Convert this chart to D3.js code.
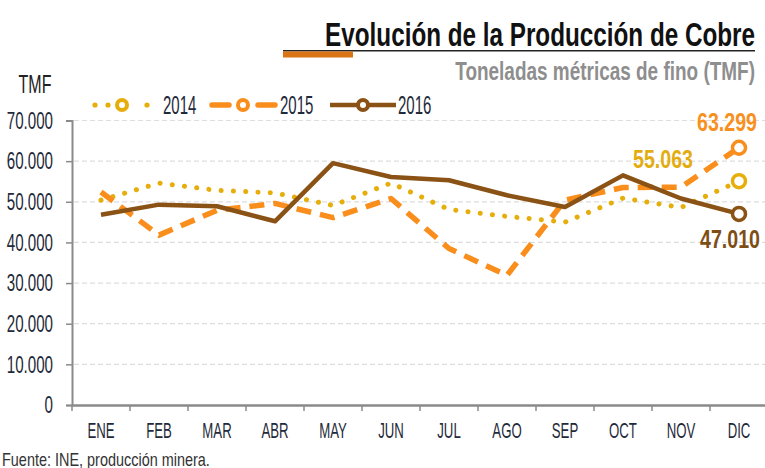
<!DOCTYPE html>
<html><head><meta charset="utf-8">
<script src="https://cdn.jsdelivr.net/npm/d3@7"></script>
<style>
body{margin:0;background:#fff;}
svg{display:block;font-family:"Liberation Sans",Arial,sans-serif;}
</style></head>
<body><svg id="c" width="765" height="468"></svg>
<script>
const months = ["ENE","FEB","MAR","ABR","MAY","JUN","JUL","AGO","SEP","OCT","NOV","DIC"];
const years = ["2014","2015","2016"];
const v2014 = [50400,54600,52800,52200,49100,54600,48100,46400,45000,50900,48600,55063];
const v2015 = [52400,41800,47900,49600,46100,50800,38500,31900,50400,53500,53600,63299];
const v2016 = [46800,49300,48900,45200,59500,56100,55300,51600,48700,56500,50800,47010];
const yTicks = [0,10000,20000,30000,40000,50000,60000,70000];
const colors = ["#E6AE0B","#F98E1C","#8A5214"];
const labelColors = ["#E3AD12","#F7901E","#7E4E16"];

const svg = d3.select("#c");
const fmt = d => d3.format(",")(d).replace(/,/g,".");
// condense text horizontally around its anchor x (narrow typeface look)
function narrow(sel, f, fixed){
  sel.each(function(){
    const s = fixed ? fixed/this.getComputedTextLength() : f;
    const ax = +(this.getAttribute("x")||0);
    d3.select(this).attr("transform",`translate(${ax},0) scale(${s},1) translate(${-ax},0)`);
  });
}

const x = d3.scaleBand().domain(months).range([72,768]);
const y = d3.scaleLinear().domain([0,70000]).range([405,120.5]);

// title
narrow(svg.append("text").attr("x",755).attr("y",46).attr("text-anchor","end")
  .attr("font-size",33).attr("font-weight","bold").attr("fill","#111")
  .text("Evolución de la Producción de Cobre"), 0, 430);
svg.append("line").attr("x1",283).attr("x2",755).attr("y1",50.8).attr("y2",50.8)
  .attr("stroke","#222").attr("stroke-width",1.5);
svg.append("rect").attr("x",283).attr("y",51.5).attr("width",70).attr("height",6).attr("fill","#DB7412");
narrow(svg.append("text").attr("x",755).attr("y",80).attr("text-anchor","end")
  .attr("font-size",25).attr("font-weight","bold").attr("fill","#8e8e8e")
  .text("Toneladas métricas de fino (TMF)"), 0, 300);
narrow(svg.append("text").attr("x",35).attr("y",93).attr("text-anchor","middle")
  .attr("font-size",25).attr("fill","#222").text("TMF"), 0.64);

// grid
svg.append("g").selectAll("line").data(yTicks.filter(d=>d>0)).join("line")
  .attr("x1",74).attr("x2",765).attr("y1",d=>y(d)).attr("y2",d=>y(d))
  .attr("stroke","#ddd").attr("stroke-width",1.2).attr("stroke-dasharray","5 3");

// y axis
const ya = svg.append("g").attr("transform","translate(72,0)")
  .call(d3.axisLeft(y).tickValues(yTicks).tickFormat(fmt).tickSize(6).tickPadding(13));
ya.select(".domain").attr("stroke","#8a8a8a").attr("stroke-width",2);
ya.selectAll(".tick line").attr("stroke","#8a8a8a").attr("stroke-width",1.5);
ya.selectAll("text").attr("font-size",24).attr("fill","#1f2a3a").attr("font-family",null);
narrow(ya.selectAll("text"), 0.63);

// x axis
const xa = svg.append("g").attr("transform","translate(0,405)")
  .call(d3.axisBottom(x).tickSize(0).tickPadding(17));
xa.select(".domain").attr("stroke","#8a8a8a").attr("stroke-width",2.5);
xa.selectAll("text").attr("font-size",22).attr("fill","#1f2a3a").attr("font-family",null);
narrow(xa.selectAll("text"), 0.6);
svg.append("g").selectAll("line").data(months.map(m=>x(m)).concat([x("DIC")+x.bandwidth()])).join("line")
  .attr("x1",d=>d).attr("x2",d=>d).attr("y1",405).attr("y2",411)
  .attr("stroke","#8a8a8a").attr("stroke-width",1.5);

// lines
const series = [v2014,v2015,v2016];
const styles = [
  {w:5, dash:"0.1 12.2", cap:"round"},
  {w:5.5, dash:"15 9", cap:"butt"},
  {w:4.5, dash:null, cap:"butt"}
];
const line = d3.line().x((d,i)=>x(months[i])+x.bandwidth()/2).y(d=>y(d));
series.forEach((s,k)=>{
  svg.append("path").datum(s).attr("d",line).attr("fill","none")
    .attr("stroke",colors[k]).attr("stroke-width",styles[k].w)
    .attr("stroke-dasharray",styles[k].dash).attr("stroke-linecap",styles[k].cap)
    .attr("stroke-linejoin","round");
});
// end markers
series.forEach((s,k)=>{
  svg.append("circle").attr("cx",x("DIC")+x.bandwidth()/2).attr("cy",y(s[11]))
    .attr("r",6.5).attr("fill","#fff").attr("stroke",colors[k]).attr("stroke-width",3.5);
});
// end labels
const labPos = [[663,-13],[727,-16.5],[730,34.5]];
series.forEach((s,k)=>{
  narrow(svg.append("text").attr("x",labPos[k][0]).attr("y",y(s[11])+labPos[k][1])
    .attr("text-anchor","middle").attr("font-size",25).attr("font-weight","bold")
    .attr("fill",labelColors[k]).text(fmt(s[11])), 0, 60);
});

// legend
const leg = [
  {x0:92, x1:152, mx:122, tx:163},
  {x0:212, x1:276, mx:243, tx:280},
  {x0:330, x1:396, mx:363, tx:398}
];
years.forEach((yr,k)=>{
  const L = leg[k], g = svg.append("g");
  if(k===0){
    [95,108,147].forEach(cx=>g.append("circle").attr("cx",cx).attr("cy",105).attr("r",2.6).attr("fill",colors[0]));
  } else {
    g.append("line").attr("x1",L.x0).attr("x2",L.x1).attr("y1",105).attr("y2",105)
      .attr("stroke",colors[k]).attr("stroke-width",k===1?5.5:4.5)
      .attr("stroke-dasharray",k===1?"17 29 17":null).attr("stroke-linecap",k===1?"round":"butt");
  }
  g.append("circle").attr("cx",L.mx).attr("cy",105).attr("r",5).attr("fill","#fff")
    .attr("stroke",colors[k]).attr("stroke-width",4);
  narrow(g.append("text").attr("x",L.tx).attr("y",114).attr("font-size",25).attr("fill","#1f2a3a").text(yr), 0.6);
});

// source
narrow(svg.append("text").attr("x",2).attr("y",466).attr("font-size",18).attr("fill","#333")
  .text("Fuente: INE, producción minera."), 0, 208);
</script></body></html>
